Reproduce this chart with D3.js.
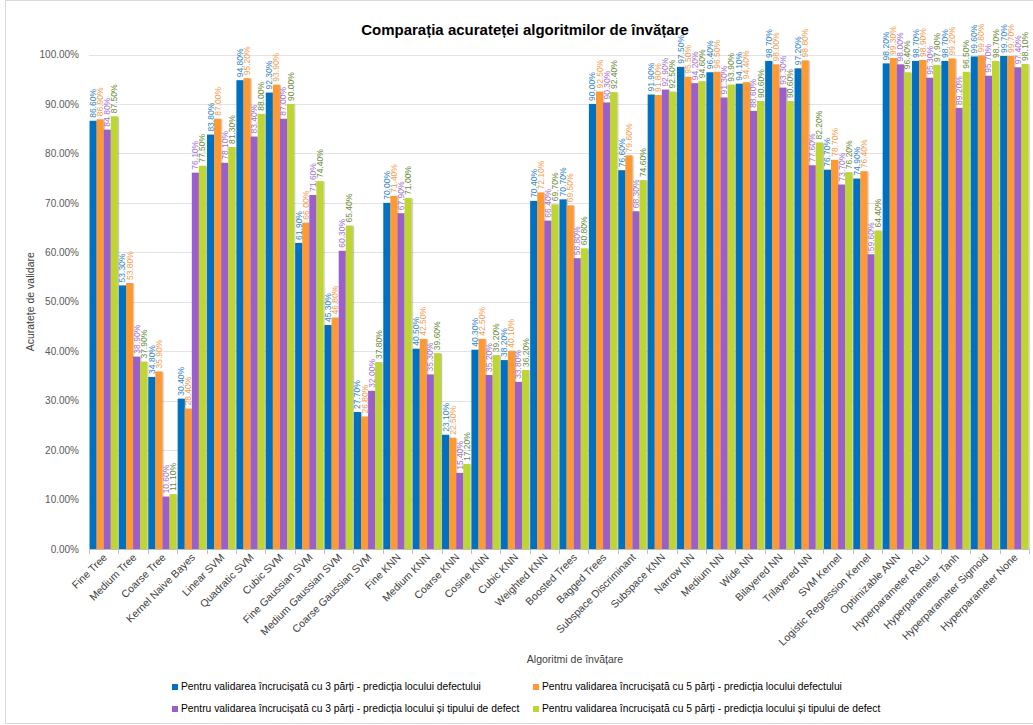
<!DOCTYPE html>
<html>
<head>
<meta charset="utf-8">
<script src="https://cdn.jsdelivr.net/npm/d3@7"></script>
<style>
  body { margin: 0; background: #fff; }
  svg { display: block; font-family: "Liberation Sans", Arial, sans-serif; }
</style>
</head>
<body>
<svg id="chart" width="1033" height="725"></svg>
<script>
// Algorithm names along the x axis
const categories = [
  "Fine Tree", "Medium Tree", "Coarse Tree", "Kernel Naive Bayes", "Linear SVM",
  "Quadratic SVM", "Cubic SVM", "Fine Gaussian SVM", "Medium Gaussian SVM",
  "Coarse Gaussian SVM", "Fine KNN", "Medium KNN", "Coarse KNN", "Cosine KNN",
  "Cubic KNN", "Weighted KNN", "Boosted Trees", "Bagged Trees",
  "Subspace Discriminant", "Subspace KNN", "Narrow NN", "Medium NN", "Wide NN",
  "Bilayered NN", "Trilayered NN", "SVM Kernel", "Logistic Regression Kernel",
  "Optimizable ANN", "Hyperparameter ReLu", "Hyperparameter Tanh",
  "Hyperparameter Sigmoid", "Hyperparameter None"
];

// Validation accuracy (%) per series
const loc3 = [86.6, 53.3, 34.8, 30.4, 83.8, 94.8, 92.3, 61.9, 45.3, 27.7, 70.0, 40.5, 23.1, 40.3, 38.2, 70.4,
              70.7, 90.0, 76.6, 91.9, 97.5, 96.4, 94.1, 98.7, 97.2, 76.7, 74.9, 98.2, 98.7, 98.7, 99.6, 99.7];
const loc5 = [86.9, 53.8, 35.9, 28.4, 87.0, 95.2, 93.9, 66.0, 46.8, 26.8, 71.4, 42.5, 22.5, 42.5, 40.1, 72.1,
              69.5, 92.5, 79.6, 91.8, 95.5, 96.5, 94.4, 98.0, 98.8, 78.7, 76.4, 99.3, 98.9, 99.2, 99.8, 99.7];
const type3 = [84.8, 38.9, 10.6, 76.1, 78.1, 83.4, 87.0, 71.6, 60.3, 32.0, 67.9, 35.3, 15.4, 35.2, 33.8, 66.4,
               58.8, 90.3, 68.3, 92.9, 94.2, 91.3, 88.6, 93.3, 77.6, 73.7, 59.6, 98.0, 95.3, 89.2, 95.7, 97.4];
const type5 = [87.5, 37.9, 11.1, 77.5, 81.3, 88.0, 90.0, 74.4, 65.4, 37.8, 71.0, 39.6, 17.2, 39.2, 36.2, 69.7,
               60.8, 92.4, 74.6, 92.5, 94.6, 93.9, 90.6, 90.6, 82.2, 76.2, 64.4, 96.4, 97.9, 96.5, 98.7, 98.1];

const seriesNames = [
  "Pentru validarea încrucișată cu 3 părți - predicția locului defectului",
  "Pentru validarea încrucișată cu 5 părți - predicția locului defectului",
  "Pentru validarea încrucișată cu 3 părți - predicția locului și tipului de defect",
  "Pentru validarea încrucișată cu 5 părți - predicția locului și tipului de defect"
];

const yTicks = [0, 10, 20, 30, 40, 50, 60, 70, 80, 90, 100];

const seriesValues = [loc3, loc5, type3, type5];
const barColors = ["#0070C0", "#FF9933", "#9B5FCC", "#BFD630"];
const labelColors = ["#2F86CF", "#F79C4C", "#A274D8", "#6A8C35"];

const svg = d3.select("#chart");

// Chart frame
svg.append("rect")
  .attr("x", 5.5).attr("y", 0.5).attr("width", 1060).attr("height", 723)
  .attr("fill", "none").attr("stroke", "#D9D9D9");

const plot = { left: 89, right: 1029, top: 54.5, bottom: 549 };

const x = d3.scaleBand().domain(categories).range([plot.left, plot.right]).paddingInner(0).paddingOuter(0);
const xInner = d3.scaleBand().domain(d3.range(4)).range([0, x.bandwidth()]).paddingInner(0).paddingOuter(0.075);
const y = d3.scaleLinear().domain([0, 100]).range([plot.bottom, plot.top]);

// Gridlines
svg.append("g").selectAll("line").data(yTicks.filter(t => t > 0)).join("line")
  .attr("x1", plot.left).attr("x2", plot.right)
  .attr("y1", d => Math.round(y(d)) + 0.5).attr("y2", d => Math.round(y(d)) + 0.5)
  .attr("stroke", "#E3E3E3").attr("stroke-width", 1);

// Y axis labels
const yAxis = d3.axisLeft(y).tickValues(yTicks).tickFormat(d => d.toFixed(2) + "%").tickSize(0).tickPadding(10);
const gy = svg.append("g").attr("transform", `translate(${plot.left},0)`).call(yAxis);
gy.select(".domain").remove();
gy.selectAll("text").attr("font-size", 10).attr("fill", "#595959")
  .attr("font-family", "Liberation Sans, Arial, sans-serif");

// Soft bar shadow
const defs = svg.append("defs");
const f = defs.append("filter").attr("id", "shadow").attr("x", "-50%").attr("y", "-5%").attr("width", "200%").attr("height", "110%");
f.append("feDropShadow").attr("dx", 1.2).attr("dy", 0.5).attr("stdDeviation", 0.7)
  .attr("flood-color", "#000").attr("flood-opacity", 0.25);

// Bars
const groups = svg.append("g").selectAll("g").data(categories).join("g")
  .attr("transform", d => `translate(${x(d)},0)`);

groups.each(function (cat, ci) {
  const g = d3.select(this);
  seriesValues.forEach((vals, si) => {
    const v = vals[ci];
    g.append("rect")
      .attr("x", xInner(si))
      .attr("width", xInner.bandwidth())
      .attr("y", y(v))
      .attr("height", y(0) - y(v))
      .attr("fill", barColors[si])
      .attr("filter", "url(#shadow)");
  });
});

// Value labels, rotated above each bar
groups.each(function (cat, ci) {
  const g = d3.select(this);
  seriesValues.forEach((vals, si) => {
    const v = vals[ci];
    const cx = xInner(si) + xInner.bandwidth() / 2;
    g.append("text")
      .attr("transform", `translate(${cx + 3},${y(v) - 3}) rotate(-90)`)
      .attr("font-size", 8.5)
      .attr("fill", labelColors[si])
      .text(v.toFixed(2) + "%");
  });
});

// X axis line and category ticks
const xAxis = d3.axisBottom(x).tickSize(0).tickFormat("");
const gx = svg.append("g").attr("transform", `translate(0,${plot.bottom + 0.5})`).call(xAxis);
gx.select(".domain").attr("stroke", "#BFBFBF").attr("d", `M${plot.left},0H${plot.right}`);
gx.selectAll(".tick").remove();
svg.append("g").selectAll("line").data(categories.concat([null])).join("line")
  .attr("x1", (d, i) => Math.round(plot.left + i * x.step()) + 0.5)
  .attr("x2", (d, i) => Math.round(plot.left + i * x.step()) + 0.5)
  .attr("y1", plot.bottom).attr("y2", plot.bottom + 5)
  .attr("stroke", "#BFBFBF");

// Category labels at -45°
svg.append("g").selectAll("text").data(categories).join("text")
  .attr("transform", d => `translate(${x(d) + x.bandwidth() / 2 + 4},${plot.bottom + 9}) rotate(-45)`)
  .attr("text-anchor", "end")
  .attr("font-size", 10.5)
  .attr("fill", "#404040")
  .text(d => d);

// Title
svg.append("text")
  .attr("x", 525).attr("y", 35)
  .attr("text-anchor", "middle")
  .attr("font-size", 15).attr("font-weight", "bold").attr("fill", "#000")
  .text("Comparația acurateței algoritmilor de învățare");

// Axis titles
svg.append("text")
  .attr("x", 575).attr("y", 663)
  .attr("text-anchor", "middle")
  .attr("font-size", 10.5).attr("fill", "#404040")
  .text("Algoritmi de învățare");

svg.append("text")
  .attr("transform", `translate(34,${(plot.top + plot.bottom) / 2}) rotate(-90)`)
  .attr("text-anchor", "middle")
  .attr("font-size", 10.5).attr("fill", "#404040")
  .text("Acuratețe de validare");

// Legend
const legendPos = [[172, 690], [533, 690], [172, 712], [533, 712]];
const legend = svg.append("g").selectAll("g").data(seriesNames).join("g")
  .attr("transform", (d, i) => `translate(${legendPos[i][0]},${legendPos[i][1]})`);
legend.append("rect").attr("x", 0).attr("y", -6).attr("width", 6).attr("height", 6)
  .attr("fill", (d, i) => barColors[i]);
legend.append("text").attr("x", 9).attr("y", 0)
  .attr("font-size", 10.3).attr("fill", "#000")
  .text(d => d);
</script>
</body>
</html>
